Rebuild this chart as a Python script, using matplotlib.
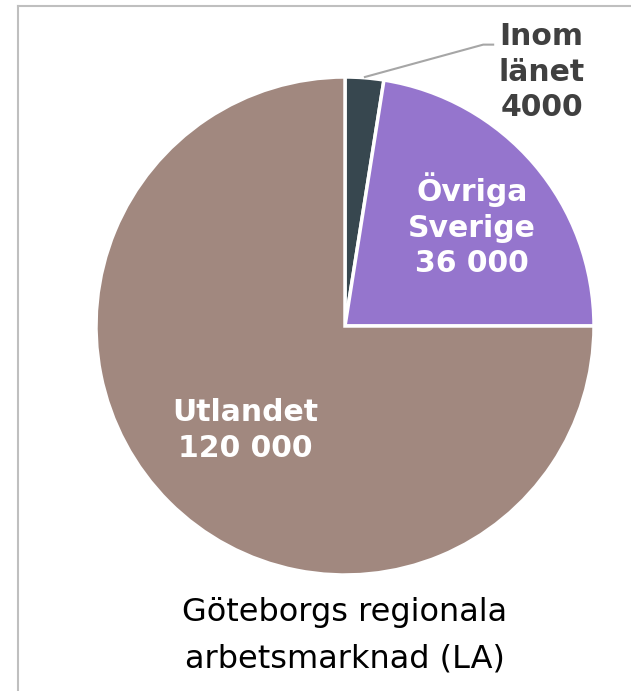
import matplotlib.pyplot as plt
from matplotlib.lines import Line2D

categories = ['Inom\nlänet', 'Övriga\nSverige', 'Utlandet']
values = [4000, 36000, 120000]
value_labels = ['4000', '36 000', '120 000']
colors = ['#37474f', '#9575cd', '#a1887f']
title = 'Göteborgs regionala\narbetsmarknad (LA)'

fig = plt.figure(figsize=(6.31, 6.91), dpi=100)

# frame (only left and top visible in the reference)
fig.add_artist(Line2D([18 / 631, 18 / 631], [0, 1 - 6 / 691], transform=fig.transFigure,
                      color='#bfbfbf', lw=1.5))
fig.add_artist(Line2D([18 / 631, 1], [1 - 6 / 691, 1 - 6 / 691], transform=fig.transFigure,
                      color='#bfbfbf', lw=1.5))

ax = fig.add_axes([96 / 631, 116 / 691, 498 / 631, 498 / 691])
wedges, _ = ax.pie(values, colors=colors, startangle=90, counterclock=False,
                   radius=1, wedgeprops=dict(edgecolor='white', linewidth=2.5))
ax.set_xlim(-1, 1)
ax.set_ylim(-1, 1)
ax.axis('off')

# labels
lab = dict(ha='center', va='center', fontsize=21.5, fontweight='bold', linespacing=1.3)
ax.text(0.51, 0.405, categories[1] + '\n' + value_labels[1], color='white', **lab)
ax.text(-0.40, -0.42, categories[2] + '\n' + value_labels[2], color='white', **lab)
ax.text(0.79, 1.02, categories[0] + '\n' + value_labels[0], color='#404040',
        clip_on=False, **lab)

# leader line for the small slice
ax.plot([0.08, 0.555, 0.595], [1.0, 1.13, 1.13], color='#a6a6a6', lw=1.5,
        clip_on=False)

fig.text(345 / 631, 1 - 636 / 691, title, ha='center', va='center', fontsize=23,
         color='black', linespacing=1.65)

fig.savefig('out.png', dpi=100)
